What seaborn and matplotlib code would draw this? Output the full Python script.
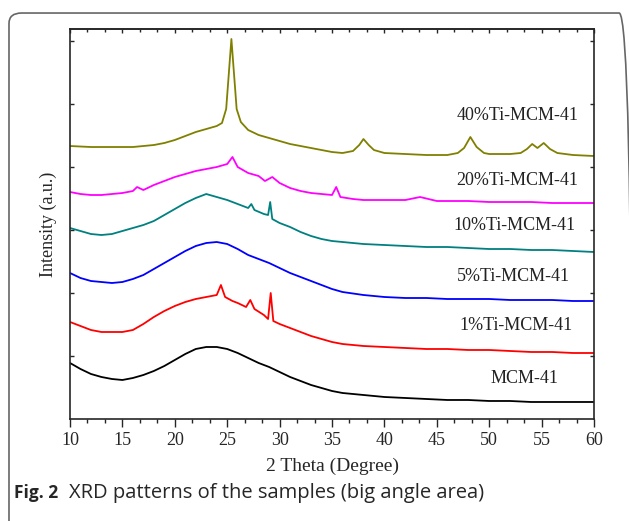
import numpy as np
import pandas as pd
import seaborn as sns
import matplotlib.pyplot as plt
from matplotlib.patches import FancyBboxPatch
from matplotlib.ticker import MultipleLocator, NullFormatter

# XRD traces (2 theta in degrees, intensity in a.u.)
x_mcm = [10, 11, 12, 13, 14, 15, 16, 17, 18, 19, 20, 21, 22, 23, 24, 25, 26, 27, 28, 29,
         30, 31, 32, 33, 34, 35, 36, 38, 40, 42, 44, 46, 48, 50, 52, 54, 56, 58, 60]
y_mcm = [56, 50, 45, 42, 40, 39, 41, 44, 48, 53, 59, 65, 70, 72, 72, 70, 66, 61, 56, 52,
         47, 42, 38, 34, 31, 28, 26, 24, 22, 21, 20, 19, 19, 18, 18, 17, 17, 17, 17]

x_ti1 = [10, 11, 12, 13, 14, 15, 16, 17, 18, 19, 20, 21, 22, 23, 24, 24.4, 24.8, 25.5, 26,
         26.8, 27.2, 27.6, 28.5, 28.9, 29.15, 29.4, 30, 31, 32, 33, 34, 35, 36, 38, 40, 42,
         44, 46, 48, 50, 52, 54, 56, 58, 60]
y_ti1 = [97, 93, 89, 87, 87, 87, 89, 95, 102, 108, 113, 117, 120, 122, 124, 134, 122, 118, 116,
         112, 119, 110, 104, 100, 126, 98, 95, 91, 87, 83, 80, 77, 75, 73, 72, 71,
         70, 70, 69, 69, 68, 67, 67, 66, 66]

x_ti5 = [10, 11, 12, 13, 14, 15, 16, 17, 18, 19, 20, 21, 22, 23, 24, 25, 26, 27, 28, 29,
         30, 31, 32, 33, 34, 35, 36, 38, 40, 42, 44, 46, 48, 50, 52, 54, 56, 58, 60]
y_ti5 = [146, 141, 138, 137, 136, 137, 140, 144, 150, 156, 162, 168, 173, 176, 177, 175, 170, 164, 160, 156,
         151, 146, 142, 138, 134, 130, 127, 124, 122, 121, 121, 120, 120, 120, 119, 119, 119, 118, 118]

x_ti10 = [10, 11, 12, 13, 14, 15, 16, 17, 18, 19, 20, 21, 22, 23, 24, 25, 26, 27, 27.3, 27.6,
          28.5, 28.9, 29.1, 29.3, 30, 31, 32, 33, 34, 35, 36, 38, 40, 42, 44, 46, 48, 50,
          52, 54, 56, 58, 60]
y_ti10 = [191, 188, 185, 184, 185, 188, 191, 194, 198, 204, 210, 216, 221, 225, 222, 219, 215, 211, 215, 209,
          205, 204, 217, 200, 196, 192, 187, 183, 180, 178, 177, 175, 174, 173, 172, 172, 171, 170,
          170, 169, 169, 168, 167]

x_ti20 = [10, 11, 12, 13, 14, 15, 16, 16.4, 17, 18, 19, 20, 21, 22, 23, 24, 25, 25.5, 26, 27,
          28, 28.6, 29.3, 30, 31, 32, 33, 34, 35, 35.4, 35.8, 37, 38, 40, 42, 43.4, 45, 48,
          50, 52, 54, 56, 58, 60]
y_ti20 = [227, 225, 224, 224, 225, 226, 228, 232, 229, 234, 238, 242, 245, 248, 250, 252, 255, 262, 252, 246,
          243, 238, 242, 236, 231, 228, 226, 225, 224, 232, 222, 220, 219, 219, 219, 222, 218, 218,
          217, 217, 217, 216, 216, 216]

x_ti40 = [10, 12, 14, 16, 18, 19, 20, 21, 22, 23, 24, 24.5, 24.9, 25.15, 25.4, 25.65, 25.9, 26.3,
          27, 28, 29, 30, 31, 32, 33, 34, 35, 36, 37, 37.6, 38, 38.5, 39, 40, 42, 44, 46, 47,
          47.6, 48.2, 48.8, 49.5, 50, 52, 53, 53.6, 54.1, 54.6, 55.2, 55.8, 56.5, 58, 60]
y_ti40 = [273, 272, 272, 272, 274, 276, 279, 283, 287, 290, 293, 296, 310, 345, 380, 345, 310, 297,
          289, 284, 281, 278, 275, 273, 271, 269, 267, 266, 268, 274, 280, 274, 269, 266, 265, 264, 264, 266,
          271, 282, 272, 266, 265, 265, 266, 270, 275, 271, 276, 270, 266, 264, 263]

samples = ['MCM-41', '1%Ti-MCM-41', '5%Ti-MCM-41', '10%Ti-MCM-41', '20%Ti-MCM-41', '40%Ti-MCM-41']
colors = ['#000000', '#ff0000', '#0000ff', '#008080', '#ff00ff', '#808000']
label_x = [56.6, 58.0, 57.7, 58.2, 58.5, 58.5]
label_y = [40, 93, 142, 194, 239, 304]

traces = [(x_mcm, y_mcm), (x_ti1, y_ti1), (x_ti5, y_ti5),
          (x_ti10, y_ti10), (x_ti20, y_ti20), (x_ti40, y_ti40)]
df = pd.concat([pd.DataFrame({'theta': xs, 'intensity': ys, 'sample': name})
                for name, (xs, ys) in zip(samples, traces)], ignore_index=True)

sns.set_style('ticks')
plt.rcParams['font.family'] = ['Liberation Serif', 'DejaVu Serif']

fig = plt.figure(figsize=(6.29, 5.21), dpi=100)
ax = fig.add_axes([0.1113, 0.1958, 0.8331, 0.7485])

sns.lineplot(data=df, x='theta', y='intensity', hue='sample', palette=dict(zip(samples, colors)),
             linewidth=1.3, legend=False, sort=False, estimator=None, ax=ax)

for name, lx, ly in zip(samples, label_x, label_y):
    ax.text(lx, ly, name, ha='right', va='center', fontsize=13, color='#222222')

ax.set_xlim(10, 60)
ax.set_ylim(0, 390)
ax.xaxis.set_major_locator(MultipleLocator(5))
ax.xaxis.set_minor_locator(MultipleLocator(5 / 3))
ax.set_yticks(np.arange(63, 390, 63))
ax.set_yticklabels([])
ax.tick_params(axis='x', which='major', direction='out', length=6, width=1, labelsize=13)
ax.tick_params(axis='x', which='minor', direction='out', length=3, width=1)
ax.tick_params(axis='y', direction='in', length=3, width=1, right=True)
for side in ['top', 'right', 'bottom', 'left']:
    ax.spines[side].set_visible(True)
    ax.spines[side].set_linewidth(1.2)

# inward ticks along the top edge
top = ax.secondary_xaxis('top')
top.xaxis.set_major_locator(MultipleLocator(5))
top.xaxis.set_minor_locator(MultipleLocator(5 / 3))
top.xaxis.set_major_formatter(NullFormatter())
top.tick_params(which='major', direction='in', length=3, width=1)
top.tick_params(which='minor', direction='in', length=2, width=1)
top.spines['top'].set_linewidth(1.2)

ax.set_xlabel('2 Theta (Degree)', fontsize=14, labelpad=6)
ax.set_ylabel('Intensity (a.u.)', fontsize=13, labelpad=6)

# rounded frame and caption as in the journal figure
frame = FancyBboxPatch((0.0143, -0.05), 0.99, 1.025, transform=fig.transFigure,
                       boxstyle='round,pad=0,rounding_size=0.02', fill=False,
                       edgecolor='#666666', linewidth=1.2, clip_on=False)
fig.patches.append(frame)
fig.text(0.022, 0.053, 'Fig. 2', fontsize=12.5, fontweight='bold', family='Open Sans', va='center')
fig.text(0.109, 0.053, 'XRD patterns of the samples (big angle area)', fontsize=14.5,
         family='Open Sans', va='center')

fig.savefig('out.png', dpi=100)
